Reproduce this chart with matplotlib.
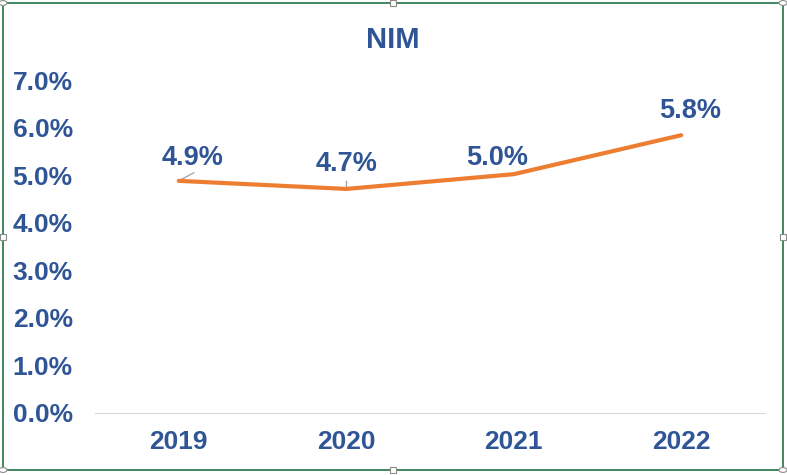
import matplotlib.pyplot as plt
from matplotlib.patches import Rectangle, Circle

plt.rcParams['font.family'] = ['Liberation Sans', 'DejaVu Sans']

years = ['2019', '2020', '2021', '2022']
nim = [4.88, 4.71, 5.02, 5.84]
labels = ['4.9%', '4.7%', '5.0%', '5.8%']
yticks = [0, 1, 2, 3, 4, 5, 6, 7]

blue = '#2F5597'
orange = '#ED7D31'

fig = plt.figure(figsize=(7.87, 4.75), dpi=100)
ax = fig.add_axes([95 / 787, 1 - 413 / 475, 670 / 787, 333 / 475])

x = list(range(len(years)))
ax.plot(x, nim, color=orange, lw=3, solid_capstyle='round', zorder=3)

# data labels with small leader lines
offsets = [(0.08, 0.48), (0.0, 0.53), (-0.1, 0.35), (0.05, 0.50)]
for i, (v, lab) in enumerate(zip(nim, labels)):
    dx, dy = offsets[i]
    ax.text(i + dx, v + dy, lab, ha='center', va='center', color=blue,
            fontsize=19.5, fontweight='bold')
ax.plot([0.0, 0.09], [nim[0], nim[0] + 0.17], color='#A6A6A6', lw=1)
ax.plot([1.0, 1.0], [nim[1], nim[1] + 0.17], color='#A6A6A6', lw=1)

ax.set_xlim(-0.5, 3.5)
ax.set_ylim(0, 7)
ax.set_yticks(yticks)
ax.set_yticklabels([f'{t:.1f}%' for t in yticks])
ax.set_xticks(x)
ax.set_xticklabels(years)
for s in ['top', 'right', 'left']:
    ax.spines[s].set_visible(False)
ax.spines['bottom'].set_color('#D9D9D9')
ax.tick_params(length=0, labelsize=19, labelcolor=blue, pad=12)
ax.tick_params(axis='y', pad=16)
for t in ax.get_xticklabels() + ax.get_yticklabels():
    t.set_fontweight('bold')

fig.text(393 / 787, 1 - 40 / 475, 'NIM', ha='center', va='center',
         color=blue, fontsize=21, fontweight='bold')

# selected chart frame with handles
green = '#217346'
fig.patches.append(Rectangle((3 / 787, 1 - 470 / 475), 780 / 787, 467 / 475,
                             transform=fig.transFigure, fill=False,
                             edgecolor=green, lw=1.2))
for hx, hy in [(3, 3), (783, 3), (3, 470), (783, 470)]:
    fig.patches.append(Circle((hx / 787, 1 - hy / 475), 4 / 787,
                              transform=fig.transFigure, facecolor='white',
                              edgecolor='#8C8C8C', lw=0.8, zorder=5))
for hx, hy in [(393, 3), (393, 470), (3, 237), (783, 237)]:
    fig.patches.append(Rectangle(((hx - 3) / 787, 1 - (hy + 3) / 475), 6 / 787, 6 / 475,
                                 transform=fig.transFigure, facecolor='white',
                                 edgecolor='#8C8C8C', lw=0.8, zorder=5))

fig.savefig('out.png', dpi=100)
